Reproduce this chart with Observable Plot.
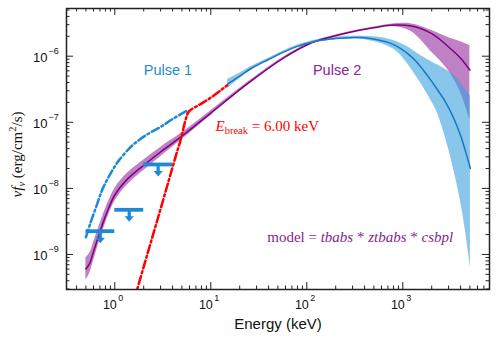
<!DOCTYPE html>
<html><head><meta charset="utf-8">
<script src="https://cdn.jsdelivr.net/npm/d3@7"></script>
<script src="https://cdn.jsdelivr.net/npm/@observablehq/plot@0.6"></script>
<style>html,body{margin:0;padding:0;background:#fff;} svg{display:block}</style>
</head><body><div id="chart"></div><script>
// ---- Pulse 2 (purple) model and its band
const pulse2Energy = [0.5,0.55,0.6,0.7,0.8,1.0,1.35,2,3,5,10,25,57,100,140,200,300,500,750,1200,2000,3000,4000,5000];
const pulse2Flux  = [6.03e-10,7.41e-10,1.10e-9,2.19e-9,3.80e-9,7.94e-9,1.38e-8,2.24e-8,3.55e-8,6.17e-8,1.38e-7,3.98e-7,9.33e-7,1.48e-6,1.78e-6,2.04e-6,2.34e-6,2.69e-6,2.95e-6,2.88e-6,2.19e-6,1.38e-6,9.33e-7,6.17e-7];
const pulse2Upper = [8.91e-10,1.05e-9,1.51e-9,2.88e-9,4.90e-9,1.00e-8,1.70e-8,2.69e-8,4.17e-8,6.92e-8,1.50e-7,4.17e-7,9.66e-7,1.51e-6,1.82e-6,2.09e-6,2.40e-6,2.77e-6,3.05e-6,3.09e-6,2.45e-6,1.91e-6,1.66e-6,1.45e-6];
const pulse2Lower = [4.07e-10,5.25e-10,7.94e-10,1.66e-9,2.95e-9,6.31e-9,1.12e-8,1.86e-8,3.02e-8,5.50e-8,1.27e-7,3.80e-7,9.02e-7,1.45e-6,1.74e-6,2.00e-6,2.29e-6,2.62e-6,2.85e-6,2.40e-6,1.15e-6,6.03e-7,2.82e-7,1.07e-7];

// ---- Pulse 1 (blue) model and its band
const pulse1Energy = [15,20,26,40,57,80,128,200,284,400,540,700,870,1100,1400,1800,2280,2800,3370,4000,4500,5060];
const pulse1Flux  = [3.80e-7,5.01e-7,6.46e-7,8.91e-7,1.15e-6,1.41e-6,1.70e-6,1.86e-6,1.91e-6,1.91e-6,1.78e-6,1.62e-6,1.41e-6,1.12e-6,8.13e-7,5.13e-7,3.16e-7,2.00e-7,1.17e-7,6.31e-8,3.63e-8,2.00e-8];
const pulse1Upper = [4.47e-7,5.50e-7,6.92e-7,9.33e-7,1.20e-6,1.48e-6,1.78e-6,1.95e-6,2.00e-6,2.00e-6,1.95e-6,1.82e-6,1.66e-6,1.41e-6,1.12e-6,8.91e-7,7.41e-7,6.31e-7,5.25e-7,3.98e-7,3.16e-7,2.51e-7];
const pulse1Lower = [3.24e-7,4.57e-7,6.03e-7,8.51e-7,1.10e-6,1.35e-6,1.62e-6,1.78e-6,1.82e-6,1.78e-6,1.62e-6,1.41e-6,1.17e-6,7.94e-7,4.79e-7,2.69e-7,1.41e-7,5.62e-8,2.00e-8,6.31e-9,2.24e-9,6.46e-10];

// ---- Pulse 1 low-energy extrapolation (dash-dot)
const pulse1ExtEnergy = [0.5,0.55,0.65,0.75,0.9,1.1,1.58,2.2,3.0,4.0,5.7];
const pulse1ExtFlux   = [1.82e-9,2.82e-9,5.62e-9,1.00e-8,1.66e-8,2.63e-8,4.68e-8,6.61e-8,8.51e-8,1.12e-7,1.51e-7];

// ---- Break component (red dash-dot)
const breakEnergy = [1.6,1.71,2.2,2.8,3.65,4.3,4.83,5.45,5.9,7.5,9.9,13.1,14.8];
const breakFlux   = [2.11e-10,2.95e-10,1.05e-9,3.47e-9,1.32e-8,3.02e-8,5.31e-8,1.07e-7,1.45e-7,1.82e-7,2.34e-7,3.16e-7,3.63e-7];

// ---- Upper limits (Pulse 1)
const ulEnergy     = [0.707,1.414,2.83];
const ulEnergyLow  = [0.5,1,2];
const ulEnergyHigh = [1,2,4];
const ulFlux       = [2.25e-9,4.74e-9,2.30e-8];

// ---- Axes
const xDomain = [0.314, 8000];
const yDomain = [2.95e-10, 5.27e-6];
const xMajor = [1,10,100,1000];
const yMajor = [1e-9,1e-8,1e-7,1e-6];

// ---- Annotations
const labelTexts  = ["Pulse 1","Pulse 2"];
const labelEnergy = [3.58, 207];
const labelFlux   = [6.1e-7, 6.1e-7];
const ebreakText = "Ebreak = 6.00 keV";
const modelText = "model = tbabs * ztbabs * csbpl";
const yLabelText = "νfν (erg/cm2/s)";
const xLabelText = "Energy (keV)";

const BLUE = "#1e8ad6", PURPLE = "#800080", RED = "#ff0000";
const SERIF = "'Liberation Serif', 'Times New Roman', serif";

const W = 498, H = 342, mL = 66, mR = 9, mT = 8, mB = 53;
const fw = W - mL - mR, fh = H - mT - mB;

const band2 = pulse2Energy.map((e,i)=>({e, f: pulse2Flux[i], lo: pulse2Lower[i], hi: pulse2Upper[i]}));
const band1 = pulse1Energy.map((e,i)=>({e, f: pulse1Flux[i], lo: pulse1Lower[i], hi: pulse1Upper[i]}));
const ext1 = pulse1ExtEnergy.map((e,i)=>({e, f: pulse1ExtFlux[i]}));
const brk = breakEnergy.map((e,i)=>({e, f: breakFlux[i]}));
const uls = ulEnergy.map((e,i)=>({e, lo: ulEnergyLow[i], hi: ulEnergyHigh[i], f: ulFlux[i]}));
const labels = labelTexts.map((t,i)=>({t, e: labelEnergy[i], f: labelFlux[i], c: i===0 ? BLUE : "#8a2291"}));

const isMajor = v => Math.abs(Math.log10(v) - Math.round(Math.log10(v))) < 1e-6;
const xMinor = d3.scaleLog().domain(xDomain).ticks().filter(v => !isMajor(v));
const yMinor = d3.scaleLog().domain(yDomain).ticks().filter(v => !isMajor(v));

const arrowShape = {
  draw(context, l) {
    const w = 1.6, hw = 4.6, hl = 5.5;
    context.moveTo(-w, 0);
    context.lineTo(-w, -(l - hl));
    context.lineTo(-hw, -(l - hl));
    context.lineTo(0, -l);
    context.lineTo(hw, -(l - hl));
    context.lineTo(w, -(l - hl));
    context.lineTo(w, 0);
    context.closePath();
  }
};

const expo = v => { const n = Math.round(Math.log10(v)); return (n < 0 ? "\u2212" + (-n) : String(n)); };
const CURVE = "catmull-rom";

const plot = Plot.plot({
  width: W, height: H,
  marginLeft: mL, marginRight: mR, marginTop: mT, marginBottom: mB,
  style: {fontFamily: "'Liberation Sans', Arial, sans-serif", background: "white"},
  x: {type: "log", domain: xDomain, axis: null},
  y: {type: "log", domain: yDomain, axis: null},
  marks: [
    Plot.areaY(band2, {x: "e", y1: "lo", y2: "hi", fill: "#9b3ea4", fillOpacity: 0.65, curve: CURVE}),
    Plot.areaY(band1, {x: "e", y1: "lo", y2: "hi", fill: "#3aa0e0", fillOpacity: 0.6, curve: CURVE}),
    Plot.line(band2, {x: "e", y: "f", stroke: PURPLE, strokeWidth: 1.5, curve: CURVE}),
    Plot.line(band1, {x: "e", y: "f", stroke: "#1777c4", strokeWidth: 1.5, curve: CURVE}),
    Plot.line(ext1, {x: "e", y: "f", stroke: BLUE, strokeWidth: 2.5, strokeDasharray: "8,3,2,3", curve: CURVE}),
    Plot.line(brk, {x: "e", y: "f", stroke: RED, strokeWidth: 2.5, strokeDasharray: "8,3,2,3", curve: CURVE, clip: true}),
    Plot.ruleY(uls, {y: "f", x1: "lo", x2: "hi", stroke: BLUE, strokeWidth: 3.8}),
    Plot.vector(uls, {x: "e", y: "f", length: 12, rotate: 180, anchor: "start", shape: arrowShape, fill: BLUE, stroke: "none"}),
    Plot.frame({stroke: "#222", strokeWidth: 1.5}),
    Plot.tickX(xMajor, {x: d => d, insetTop: fh - 7, stroke: "#222"}),
    Plot.tickX(xMajor, {x: d => d, insetBottom: fh - 7, stroke: "#222"}),
    Plot.tickX(xMinor, {x: d => d, insetTop: fh - 3.5, stroke: "#222"}),
    Plot.tickX(xMinor, {x: d => d, insetBottom: fh - 3.5, stroke: "#222"}),
    Plot.tickY(yMajor, {y: d => d, insetRight: fw - 7, stroke: "#222"}),
    Plot.tickY(yMajor, {y: d => d, insetLeft: fw - 7, stroke: "#222"}),
    Plot.tickY(yMinor, {y: d => d, insetRight: fw - 3.5, stroke: "#222"}),
    Plot.tickY(yMinor, {y: d => d, insetLeft: fw - 3.5, stroke: "#222"}),
    // x tick labels
    Plot.text(xMajor, {x: d => d, frameAnchor: "bottom", text: () => "10", textAnchor: "end", lineAnchor: "bottom", dx: 2, dy: 19, fontSize: 12.5, fill: "#111"}),
    Plot.text(xMajor, {x: d => d, frameAnchor: "bottom", text: d => expo(d), textAnchor: "start", lineAnchor: "bottom", dx: 3.5, dy: 11, fontSize: 9, fill: "#111"}),
    // y tick labels
    Plot.text(yMajor, {y: d => d, frameAnchor: "left", text: () => "10", textAnchor: "end", lineAnchor: "bottom", dx: -19, dy: 6, fontSize: 13, fill: "#111"}),
    Plot.text(yMajor, {y: d => d, frameAnchor: "left", text: d => expo(d), textAnchor: "start", lineAnchor: "bottom", dx: -18, dy: -2.5, fontSize: 9, fill: "#111"}),
    // axis labels
    Plot.text([xLabelText], {frameAnchor: "bottom", text: d => d, lineAnchor: "bottom", dy: 39, fontSize: 15, fill: "#111"}),
    Plot.text([yLabelText], {y: () => 7.3e-9, frameAnchor: "left", text: d => d, rotate: -90, textAnchor: "start", lineAnchor: "middle", dx: -49, fontSize: 15, fill: "#111", fontFamily: SERIF}),
    // annotations
    Plot.text(labels, {x: "e", y: "f", text: "t", fill: "c", fontSize: 14.5, lineAnchor: "middle"}),
    Plot.text([ebreakText], {x: () => 11.2, y: () => 7.5e-8, text: d => d, textAnchor: "start", lineAnchor: "bottom", fill: RED, fontSize: 15, fontFamily: SERIF}),
    Plot.text([modelText], {x: () => 38.7, y: () => 1.535e-9, text: d => d, textAnchor: "start", lineAnchor: "bottom", fill: "#861f8f", fontSize: 15, fontFamily: SERIF})
  ]
});

const rich = {
  [ebreakText]: '<tspan font-style="italic">E</tspan><tspan font-size="10.5" dy="3.5">break</tspan><tspan dy="-3.5"> = 6.00 keV</tspan>',
  [modelText]: 'model = <tspan font-style="italic">tbabs</tspan> * <tspan font-style="italic">ztbabs</tspan> * <tspan font-style="italic">csbpl</tspan>',
  [yLabelText]: '<tspan font-style="italic">νf</tspan><tspan font-style="italic" font-size="10.5" dy="3">ν</tspan><tspan dy="-3"> (erg/cm</tspan><tspan font-size="10.5" dy="-6">2</tspan><tspan dy="6">/s)</tspan>'
};
d3.select(plot).selectAll("text").each(function() {
  const t = this.textContent;
  if (rich[t]) d3.select(this).html(rich[t]);
});

document.getElementById("chart").appendChild(plot);
</script></body></html>
